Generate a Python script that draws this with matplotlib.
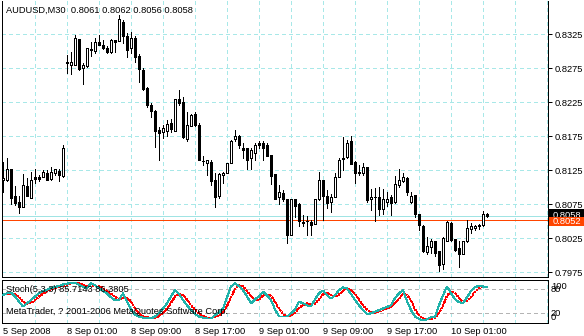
import numpy as np
import matplotlib
matplotlib.use("Agg")
import matplotlib.pyplot as plt
from matplotlib.patches import Rectangle

plt.rcParams['font.family'] = ['Liberation Sans', 'DejaVu Sans']
plt.rcParams['lines.antialiased'] = False
plt.rcParams['patch.antialiased'] = False

# AUDUSD M30, 122 bars
opens = [0.8110, 0.8110, 0.8126, 0.8087, 0.8078, 0.8071, 0.8101, 0.8084, 0.8115, 0.8114,
         0.8115, 0.8120, 0.8112, 0.8120, 0.8124, 0.8116, 0.8284, 0.8280, 0.8279, 0.8317,
         0.8275, 0.8278, 0.8302, 0.8300, 0.8313, 0.8309, 0.8305, 0.8298, 0.8316, 0.8314,
         0.8343, 0.8322, 0.8304, 0.8319, 0.8292, 0.8272, 0.8246, 0.8221, 0.8212, 0.8184,
         0.8181, 0.8183, 0.8194, 0.8183, 0.8230, 0.8225, 0.8170, 0.8189, 0.8207, 0.8191,
         0.8138, 0.8135, 0.8137, 0.8110, 0.8087, 0.8117, 0.8121, 0.8135, 0.8170, 0.8175,
         0.8158, 0.8157, 0.8142, 0.8150, 0.8165, 0.8164, 0.8162, 0.8147, 0.8119, 0.8085,
         0.8091, 0.8082, 0.8029, 0.8082, 0.8075, 0.8049, 0.8050, 0.8049, 0.8046, 0.8082,
         0.8110, 0.8087, 0.8078, 0.8085, 0.8115, 0.8141, 0.8144, 0.8167, 0.8137, 0.8122,
         0.8120, 0.8129, 0.8082, 0.8085, 0.8085, 0.8067, 0.8078, 0.8085, 0.8078, 0.8103,
         0.8109, 0.8113, 0.8078, 0.8088, 0.8060, 0.8042, 0.8005, 0.8012, 0.8020, 0.8006,
         0.7987, 0.8021, 0.8047, 0.8023, 0.8010, 0.8002, 0.8020, 0.8038, 0.8039, 0.8043,
         0.8044, 0.8061]
highs = [0.8137, 0.8142, 0.8127, 0.8101, 0.8087, 0.8119, 0.8113, 0.8122, 0.8126, 0.8118,
         0.8125, 0.8125, 0.8130, 0.8127, 0.8127, 0.8162, 0.8294, 0.8299, 0.8324, 0.8317,
         0.8282, 0.8305, 0.8313, 0.8319, 0.8324, 0.8316, 0.8307, 0.8317, 0.8316, 0.8353,
         0.8346, 0.8326, 0.8328, 0.8322, 0.8296, 0.8275, 0.8247, 0.8224, 0.8213, 0.8188,
         0.8191, 0.8199, 0.8200, 0.8230, 0.8242, 0.8233, 0.8210, 0.8207, 0.8211, 0.8194,
         0.8145, 0.8140, 0.8140, 0.8121, 0.8120, 0.8122, 0.8135, 0.8169, 0.8184, 0.8176,
         0.8164, 0.8158, 0.8157, 0.8164, 0.8168, 0.8167, 0.8164, 0.8147, 0.8119, 0.8103,
         0.8096, 0.8083, 0.8082, 0.8082, 0.8076, 0.8059, 0.8057, 0.8052, 0.8082, 0.8122,
         0.8111, 0.8095, 0.8090, 0.8121, 0.8142, 0.8174, 0.8169, 0.8175, 0.8138, 0.8132,
         0.8135, 0.8130, 0.8097, 0.8098, 0.8100, 0.8097, 0.8093, 0.8088, 0.8116, 0.8126,
         0.8121, 0.8114, 0.8093, 0.8088, 0.8060, 0.8044, 0.8027, 0.8023, 0.8021, 0.8006,
         0.8026, 0.8050, 0.8049, 0.8024, 0.8020, 0.8020, 0.8052, 0.8047, 0.8044, 0.8046,
         0.8064, 0.8062]
lows = [0.8093, 0.8109, 0.8075, 0.8073, 0.8062, 0.8071, 0.8087, 0.8084, 0.8106, 0.8109,
        0.8115, 0.8111, 0.8110, 0.8118, 0.8109, 0.8115, 0.8267, 0.8266, 0.8279, 0.8272,
        0.8252, 0.8277, 0.8292, 0.8297, 0.8309, 0.8303, 0.8297, 0.8297, 0.8298, 0.8314,
        0.8312, 0.8291, 0.8297, 0.8284, 0.8255, 0.8243, 0.8218, 0.8203, 0.8159, 0.8139,
        0.8172, 0.8175, 0.8181, 0.8183, 0.8221, 0.8172, 0.8168, 0.8189, 0.8189, 0.8139,
        0.8132, 0.8118, 0.8103, 0.8071, 0.8084, 0.8106, 0.8121, 0.8135, 0.8167, 0.8157,
        0.8142, 0.8127, 0.8127, 0.8139, 0.8158, 0.8140, 0.8145, 0.8104, 0.8082, 0.8075,
        0.8079, 0.8018, 0.8029, 0.8056, 0.8042, 0.8042, 0.8029, 0.8029, 0.8045, 0.8081,
        0.8051, 0.8069, 0.8063, 0.8085, 0.8114, 0.8125, 0.8143, 0.8134, 0.8106, 0.8118,
        0.8118, 0.8078, 0.8066, 0.8050, 0.8059, 0.8061, 0.8072, 0.8059, 0.8077, 0.8100,
        0.8108, 0.8088, 0.8077, 0.8056, 0.8037, 0.8005, 0.8001, 0.8003, 0.7998, 0.7977,
        0.7979, 0.8021, 0.8020, 0.8006, 0.7983, 0.8001, 0.8019, 0.8032, 0.8037, 0.8038,
        0.8043, 0.8056]
closes = [0.8113, 0.8127, 0.8084, 0.8076, 0.8070, 0.8103, 0.8087, 0.8111, 0.8112, 0.8112,
          0.8122, 0.8111, 0.8122, 0.8126, 0.8118, 0.8158, 0.8282, 0.8284, 0.8319, 0.8273,
          0.8280, 0.8305, 0.8303, 0.8313, 0.8309, 0.8304, 0.8299, 0.8316, 0.8313, 0.8347,
          0.8322, 0.8302, 0.8319, 0.8291, 0.8273, 0.8244, 0.8221, 0.8212, 0.8183, 0.8180,
          0.8187, 0.8193, 0.8185, 0.8229, 0.8224, 0.8173, 0.8191, 0.8206, 0.8191, 0.8140,
          0.8138, 0.8140, 0.8109, 0.8086, 0.8119, 0.8121, 0.8135, 0.8168, 0.8175, 0.8162,
          0.8154, 0.8140, 0.8154, 0.8162, 0.8162, 0.8158, 0.8145, 0.8116, 0.8082, 0.8093,
          0.8083, 0.8029, 0.8082, 0.8072, 0.8050, 0.8047, 0.8050, 0.8044, 0.8082, 0.8110,
          0.8087, 0.8077, 0.8085, 0.8114, 0.8140, 0.8142, 0.8165, 0.8134, 0.8121, 0.8120,
          0.8129, 0.8081, 0.8085, 0.8085, 0.8067, 0.8082, 0.8082, 0.8077, 0.8104, 0.8110,
          0.8114, 0.8092, 0.8087, 0.8060, 0.8044, 0.8006, 0.8013, 0.8021, 0.8003, 0.7985,
          0.8025, 0.8049, 0.8022, 0.8008, 0.8002, 0.8020, 0.8039, 0.8043, 0.8043, 0.8044,
          0.8060, 0.8058]

stoch_main = [66, 70, 72, 62, 49, 37, 45, 53, 62, 70, 75, 79, 83, 86, 88, 92, 94, 96, 97, 91,
              86, 83, 95, 90, 83, 76, 70, 60, 53, 53, 70, 50, 30, 16, 12, 9, 8, 7, 12, 20,
              32, 45, 62, 78, 68, 53, 40, 28, 18, 12, 9, 7, 7, 15, 22, 32, 60, 87, 95, 88,
              78, 62, 45, 55, 62, 74, 65, 53, 30, 12, 12, 12, 20, 30, 49, 45, 40, 37, 55, 70,
              77, 65, 57, 65, 78, 85, 82, 68, 53, 40, 28, 18, 20, 24, 28, 32, 36, 40, 58, 70,
              78, 50, 28, 12, 6, 2, 5, 10, 12, 40, 65, 87, 70, 55, 48, 45, 60, 76, 86, 88,
              87, 85.7143]
stoch_signal = [66, 68, 69, 68, 61, 49, 44, 45, 53, 62, 69, 75, 79, 83, 86, 89, 91, 94, 96, 95,
                91, 87, 88, 89, 89, 83, 76, 69, 61, 55, 59, 58, 50, 32, 19, 12, 10, 8, 9, 13,
                21, 32, 46, 62, 69, 66, 54, 40, 29, 19, 13, 9, 8, 10, 15, 23, 38, 60, 81, 90,
                87, 76, 62, 54, 54, 64, 67, 64, 49, 32, 18, 12, 15, 21, 33, 41, 45, 41, 44, 54,
                67, 71, 66, 62, 67, 76, 82, 78, 68, 54, 40, 29, 22, 21, 24, 28, 32, 36, 45, 56,
                69, 66, 52, 30, 15, 7, 4, 6, 9, 21, 39, 64, 74, 71, 58, 49, 51, 60, 74, 83,
                87, 86.3805]

price_ticks = [0.7975, 0.8025, 0.8075, 0.8125, 0.8175, 0.8225, 0.8275, 0.8325]
time_labels = ["5 Sep 2008", "8 Sep 01:00", "8 Sep 09:00", "8 Sep 17:00",
               "9 Sep 01:00", "9 Sep 09:00", "9 Sep 17:00", "10 Sep 01:00"]
time_label_bars = [0, 16, 32, 48, 64, 80, 96, 112]
bid = 0.8058
ask = 0.8052

W, H = 584, 336
GRID = '#a8e8e8'
FS = 6.7
PX = 0.72  # one pixel in points


def fx(px):
    return px / W


def fy(py):
    return 1 - py / H


fig = plt.figure(figsize=(W / 100, H / 100), dpi=100)
fig.patch.set_facecolor('white')

ax = fig.add_axes([fx(2), fy(277), fx(548) - fx(2), fy(1) - fy(277)])
ax2 = fig.add_axes([fx(2), fy(322.5), fx(548) - fx(2), fy(279.5) - fy(322.5)])

o = np.array(opens)
h = np.array(highs)
l = np.array(lows)
c = np.array(closes)
x = np.arange(len(o))

for a in (ax, ax2):
    a.set_xlim(-0.25, 136.25)
    for gx in range(8, 137, 8):
        a.axvline(gx, color=GRID, lw=PX, ls=(0, (4, 3)), zorder=0)
    for s in a.spines.values():
        s.set_color('black')
        s.set_linewidth(PX)
    a.set_xticks([])
ax.spines['top'].set_visible(False)

# main pane
ax.set_ylim(0.8375 - 277 / 6800, 0.8375 - 1 / 6800)
for p in price_ticks:
    ax.axhline(p, color=GRID, lw=PX, ls=(0, (4, 3)), zorder=0)

up = c >= o
ax.vlines(x, l, h, color='black', lw=PX, zorder=2)
ax.bar(x, np.abs(c - o), bottom=np.minimum(o, c), width=0.5,
       color=np.where(up, 'white', 'black'), edgecolor='black', linewidth=PX, zorder=3)

ax.axhline(bid, color='#a0e4e4', lw=PX, zorder=1)
ax.axhline(ask, color='#ff4500', lw=PX, zorder=1)

ax.yaxis.tick_right()
ax.set_yticks(price_ticks)
ax.set_yticklabels([f"{p:.4f}" for p in price_ticks])
ax.tick_params(axis='y', direction='out', length=3, width=PX, pad=1.5, labelsize=FS)

# stochastic pane
ax2.set_ylim(-3, 104.5)
ax2.set_yticks([])
for lv in (80, 20):
    ax2.axhline(lv, color='#b4b4b4', lw=PX, ls=(0, (4, 3)), zorder=0)
ax2.plot(x, stoch_main, color='#20b2aa', lw=PX, zorder=3)
ax2.plot(x, stoch_signal, color='red', lw=PX, ls=(0, (2, 2)), zorder=2)

# texts
fig.text(fx(6), fy(10), "AUDUSD,M30  0.8061 0.8062 0.8056 0.8058", fontsize=FS,
         ha='left', va='center')
fig.text(fx(6), fy(289.5), "Stoch(5,3,3) 85.7143 86.3805", fontsize=FS, ha='left', va='center')
fig.text(fx(6), fy(311), "MetaTrader, ? 2001-2006 MetaQuotes Software Corp.", fontsize=FS,
         ha='left', va='center')

fig.text(fx(551), fy(286.3), "100", fontsize=FS, ha='left', va='center')
fig.text(fx(551), fy(289), "80", fontsize=FS, ha='left', va='center')
fig.text(fx(551), fy(313), "20", fontsize=FS, ha='left', va='center')
fig.text(fx(551), fy(317.5), "0", fontsize=FS, ha='left', va='center')

for b, lab in zip(time_label_bars, time_labels):
    fig.text(fx(3 + 4 * b), fy(331), lab, fontsize=FS, ha='left', va='center')

# bid / ask price boxes on the scale
fig.add_artist(Rectangle((fx(549), fy(221)), fx(584) - fx(549), fy(209) - fy(221),
                         transform=fig.transFigure, facecolor='black', edgecolor='none'))
fig.text(fx(552.5), fy(215), f"{bid:.4f}", fontsize=FS, color='white', ha='left', va='center')
fig.add_artist(Rectangle((fx(549), fy(226)), fx(584) - fx(549), fy(216.5) - fy(226),
                         transform=fig.transFigure, facecolor='#ff4500', edgecolor='none',
                         zorder=4))
fig.text(fx(552.5), fy(221.3), f"{ask:.4f}", fontsize=FS, color='white', ha='left',
         va='center', zorder=5)

fig.savefig("out.png", dpi=100)
